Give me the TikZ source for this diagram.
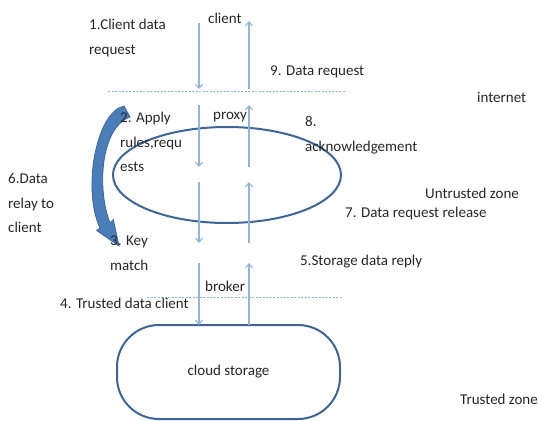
\documentclass[tikz,border=0pt]{standalone}
\usepackage{fontspec}
\setmainfont{Carlito}
\usetikzlibrary{arrows.meta}
\definecolor{flowblue}{HTML}{95B3D7}
\definecolor{rimblue}{HTML}{3D6597}
\definecolor{fillblue}{HTML}{4A7EBB}
\definecolor{inkgray}{HTML}{262626}
\begin{document}
\begin{tikzpicture}[x=1pt,y=-1pt,
  lbl/.style={font=\fontsize{15}{24.5}\selectfont, text=inkgray, inner sep=0pt, align=left, anchor=west},
  flow/.style={draw=flowblue, line width=1.1pt, -{Straight Barb[length=4pt,width=7pt]}},
  zoneline/.style={draw=flowblue, line width=0.8pt, dash pattern=on 2pt off 1.5pt},
  rim/.style={draw=rimblue, line width=2pt}]
\useasboundingbox (0,0) rectangle (539,421);

% zone boundaries
\coordinate (net1) at (108,91);  \coordinate (net2) at (345,91);
\coordinate (tr1) at (147,297);  \coordinate (tr2) at (342,297);
\draw[zoneline] (net1) -- (net2);
\draw[zoneline] (tr1) -- (tr2);

% proxy ellipse
\draw[rim] (227,175) ellipse [x radius=114, y radius=48];

% cloud storage
\node[rim, rounded corners=42pt, minimum width=223pt, minimum height=94pt,
      font=\fontsize{15}{18}\selectfont, text=inkgray] (store) at (228.5,372) {cloud storage};

% request path (down) and reply path (up)
\foreach \a/\b [count=\i] in {23/89,105/167,182/243,263/325}{
  \coordinate (dn\i s) at (199,\a);
  \coordinate (dn\i e) at (199,\b);
  \draw[flow] (dn\i s) -- (dn\i e);
}
\foreach \a/\b [count=\i] in {89/21,167/105,243/182,325/263}{
  \coordinate (up\i s) at (249,\a);
  \coordinate (up\i e) at (249,\b);
  \draw[flow] (up\i s) -- (up\i e);
}

% curved relay arrow
\fill[fillblue, draw=rimblue, line width=0.8pt]
  (124,106) .. controls (96,112) and (82,190) .. (100,228)
  -- (96.7,230.5) -- (119,246) -- (113.3,219.5) -- (110,223)
  .. controls (97,190) and (100,128) .. (130,117) -- cycle;

% labels
\node[lbl] (client) at (208,18) {client};
\node[lbl] (s1) at (89,38) {1.Client data\\request};
\node[lbl] (s9) at (270,72) {9. Data request};
\node[lbl] (internet) at (477,97) {internet};
\node[lbl] (s2) at (120,142) {2. Apply\\rules,requ\\ests};
\node[lbl] (proxy) at (213,117) {proxy};
\node[lbl] (s8) at (305,135) {8.\\acknowledgement};
\node[lbl] (s6) at (8,203) {6.Data\\relay to\\client};
\node[lbl] (untrusted) at (425,193) {Untrusted zone};
\node[lbl] (s7) at (345,213) {7. Data request release};
\node[lbl] (s3) at (110,253) {3. Key\\match};
\node[lbl] (s5) at (300,262) {5.Storage data reply};
\node[lbl] (broker) at (205,286) {broker};
\node[lbl] (s4) at (60,303) {4. Trusted data client};
\node[lbl] (trusted) at (460,399) {Trusted zone};
\end{tikzpicture}
\end{document}
